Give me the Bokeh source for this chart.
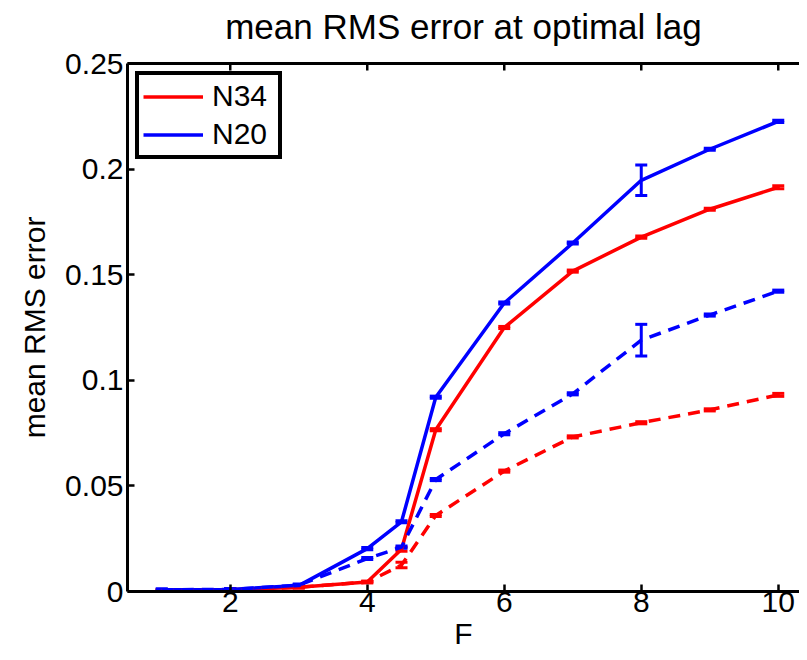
from bokeh.plotting import figure
from bokeh.models import (Range1d, FixedTicker, Legend, LegendItem, LinearAxis,
                          Whisker, TeeHead, ColumnDataSource)
from bokeh.embed import file_html
from bokeh.resources import INLINE

# ---- data ----
F = [1, 2, 3, 4, 4.5, 5, 6, 7, 8, 9, 10]
n34_solid = [0.0005, 0.0008, 0.0020, 0.0045, 0.0200, 0.0766, 0.1250, 0.1517, 0.1678, 0.1810, 0.1914]
n20_solid = [0.0008, 0.0010, 0.0028, 0.0203, 0.0330, 0.0920, 0.1366, 0.1650, 0.1947, 0.2094, 0.2226]
n34_dash = [0.0005, 0.0008, 0.0020, 0.0045, 0.0125, 0.0360, 0.0570, 0.0732, 0.0799, 0.0860, 0.0931]
n20_dash = [0.0008, 0.0010, 0.0030, 0.0156, 0.0210, 0.0530, 0.0747, 0.0936, 0.1190, 0.1309, 0.1422]
n34_solid_err = [0.0004, 0.0004, 0.0004, 0.0004, 0.0010, 0.0005, 0.0005, 0.0005, 0.0005, 0.0005, 0.0007]
n20_solid_err = [0.0004, 0.0004, 0.0005, 0.0005, 0.0005, 0.0005, 0.0005, 0.0005, 0.0072, 0.0005, 0.0005]
n34_dash_err = [0.0004, 0.0004, 0.0004, 0.0004, 0.0013, 0.0005, 0.0005, 0.0005, 0.0005, 0.0005, 0.0007]
n20_dash_err = [0.0004, 0.0004, 0.0005, 0.0005, 0.0005, 0.0005, 0.0005, 0.0005, 0.0075, 0.0005, 0.0005]

x_ticks = [2, 4, 6, 8, 10]
y_ticks = [0, 0.05, 0.1, 0.15, 0.2, 0.25]
y_tick_labels = ["0", "0.05", "0.1", "0.15", "0.2", "0.25"]

title_text = "mean RMS error at optimal lag"
x_label = "F"
y_label = "mean RMS error"
legend_labels = ["N34", "N20"]

RED = "#FF0000"
BLUE = "#0000FF"
FONT = "Liberation Sans"
Y_MIN, Y_MAX = 0, 0.25
PX_PER_Y = 529 / (Y_MAX - Y_MIN)

p = figure(width=799, height=652, output_backend="svg", toolbar_location=None,
           x_range=Range1d(0.5, 10.31), y_range=Range1d(Y_MIN, Y_MAX),
           min_border_left=127, min_border_right=0, min_border_top=63, min_border_bottom=60)
p.outline_line_color = None
p.xgrid.visible = False
p.ygrid.visible = False
p.background_fill_color = "white"
p.border_fill_color = "white"

def style_axis(ax, ticks, size="30px"):
    ax.ticker = FixedTicker(ticks=ticks)
    ax.axis_line_width = 3
    ax.axis_line_color = "black"
    ax.major_tick_in = 7
    ax.major_tick_out = 0
    ax.major_tick_line_width = 2.5
    ax.minor_tick_in = 0
    ax.minor_tick_out = 0
    ax.major_label_text_font = FONT
    ax.major_label_text_font_size = "30px"
    ax.major_label_text_color = "black"
    ax.axis_label_text_font = FONT
    ax.axis_label_text_font_size = size
    ax.axis_label_text_font_style = "normal"
    ax.axis_label_text_color = "black"

style_axis(p.xaxis[0], x_ticks)
style_axis(p.yaxis[0], y_ticks)
p.xaxis[0].axis_label = x_label
p.xaxis[0].major_label_standoff = 0
p.xaxis[0].axis_label_standoff = 2
p.yaxis[0].axis_label = y_label
p.yaxis[0].major_label_standoff = 4
p.yaxis[0].axis_label_standoff = 11
p.yaxis[0].major_label_overrides = {t: l for t, l in zip(y_ticks, y_tick_labels)}

# top edge of the box, carrying the title as its label
top = LinearAxis(axis_label=title_text)
style_axis(top, [], size="35px")
top.axis_label_standoff = 18
p.add_layout(top, "above")

# inward tick marks on the top edge
tick_len = 7 / PX_PER_Y
p.segment(x0=x_ticks, y0=[Y_MAX] * len(x_ticks), x1=x_ticks,
          y1=[Y_MAX - tick_len] * len(x_ticks), line_color="black", line_width=2.5)

def series(y, err, color, dash):
    src = ColumnDataSource(dict(x=F, y=y,
                                lo=[a - e for a, e in zip(y, err)],
                                hi=[a + e for a, e in zip(y, err)]))
    r = p.line("x", "y", source=src, line_color=color, line_width=3.5,
               line_dash=dash, line_join="round")
    w = Whisker(source=src, base="x", lower="lo", upper="hi", dimension="height",
                line_color=color, line_width=3,
                lower_head=TeeHead(size=12, line_color=color, line_width=3),
                upper_head=TeeHead(size=12, line_color=color, line_width=3))
    p.add_layout(w)
    return r

r34 = series(n34_solid, n34_solid_err, RED, "solid")
r20 = series(n20_solid, n20_solid_err, BLUE, "solid")
series(n34_dash, n34_dash_err, RED, "12 8")
series(n20_dash, n20_dash_err, BLUE, "12 8")

legend = Legend(items=[LegendItem(label=legend_labels[0], renderers=[r34]),
                       LegendItem(label=legend_labels[1], renderers=[r20])],
                location="top_left")
legend.border_line_color = "black"
legend.border_line_alpha = 1.0
legend.border_line_width = 4
legend.label_text_font = FONT
legend.label_text_font_size = "30px"
legend.label_text_color = "black"
legend.glyph_width = 60
legend.glyph_height = 33
legend.label_standoff = 9
legend.label_width = 62
legend.padding = 4
legend.spacing = 4
legend.margin = 8
legend.background_fill_alpha = 1
p.add_layout(legend)

open("out.html", "w").write(file_html(p, INLINE))
